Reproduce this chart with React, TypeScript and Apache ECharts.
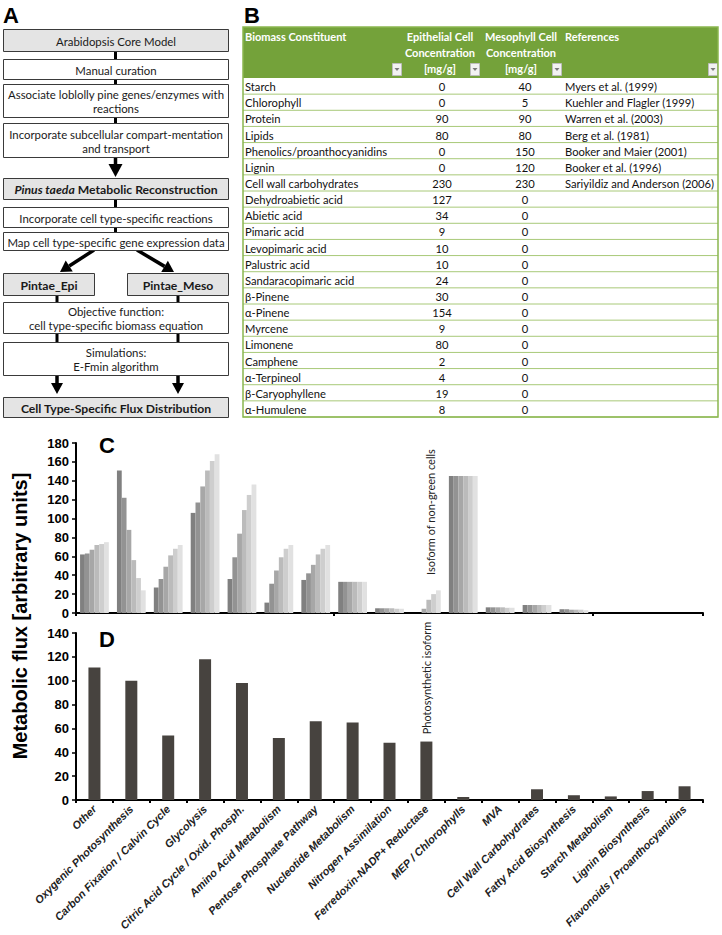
import React, { useEffect, useRef } from "react";
import * as echarts from "echarts";

// ---------- Panel C / D data ----------
const pathways = [
  "Other",
  "Oxygenic Photosynthesis",
  "Carbon Fixation / Calvin Cycle",
  "Glycolysis",
  "Citric Acid Cycle / Oxid. Phosph.",
  "Amino Acid Metabolism",
  "Pentose Phosphate Pathway",
  "Nucleotide Metabolism",
  "Nitrogen Assimilation",
  "Ferredoxin-NADP+ Reductase",
  "MEP / Chlorophylls",
  "MVA",
  "Cell Wall Carbohydrates",
  "Fatty Acid Biosynthesis",
  "Starch Metabolism",
  "Lignin Biosynthesis",
  "Flavonoids / Proanthocyanidins",
];
const fluxC1 = [62, 151, 27, 106, 36, 11, 35, 33, 5, 0, 145, 6, 8.5, 4, 0, 0, 0];
const fluxC2 = [63, 122, 36, 117, 59, 31, 42, 33, 5, 0, 145, 6, 8.5, 4, 0, 0, 0];
const fluxC3 = [67, 88, 49, 134, 84, 45, 51, 33, 5, 4.5, 145, 6, 8.5, 3.5, 0, 0, 0];
const fluxC4 = [72, 56, 61, 151, 109, 59, 62, 33, 5, 14, 145, 6, 8.5, 3.5, 0, 0, 0];
const fluxC5 = [73, 37, 68, 161, 125, 68, 68, 33, 4.5, 20, 145, 5.5, 8.5, 3.5, 0, 0, 0];
const fluxC6 = [75, 24, 72, 168, 136, 72, 72, 33, 4.5, 24, 145, 5.5, 8.5, 3, 0, 0, 0];
const fluxCSeries = [fluxC1, fluxC2, fluxC3, fluxC4, fluxC5, fluxC6];
const fluxD = [111, 100, 54, 118, 98, 52, 66, 65, 48, 49, 2.5, 0, 9, 4, 3, 7.5, 11.5];
const yTicksC = { min: 0, max: 180, interval: 20 };
const yTicksD = { min: 0, max: 140, interval: 20 };

// ---------- Panel B data ----------
const biomassNames = [
  "Starch", "Chlorophyll", "Protein", "Lipids", "Phenolics/proanthocyanidins", "Lignin",
  "Cell wall carbohydrates", "Dehydroabietic acid", "Abietic acid", "Pimaric acid",
  "Levopimaric acid", "Palustric acid", "Sandaracopimaric acid", "β-Pinene", "α-Pinene",
  "Myrcene", "Limonene", "Camphene", "α-Terpineol", "β-Caryophyllene", "α-Humulene",
];
const epiConc = [0, 0, 90, 80, 0, 0, 230, 127, 34, 9, 10, 10, 24, 30, 154, 9, 80, 2, 4, 19, 8];
const mesoConc = [40, 5, 90, 80, 150, 120, 230, 0, 0, 0, 0, 0, 0, 0, 0, 0, 0, 0, 0, 0, 0];
const references = [
  "Myers et al. (1999)", "Kuehler and Flagler (1999)", "Warren et al. (2003)", "Berg et al. (1981)",
  "Booker and Maier (2001)", "Booker et al. (1996)", "Sariyildiz and Anderson (2006)",
  "", "", "", "", "", "", "", "", "", "", "", "", "", "",
];

// ---------- Panel A texts ----------
const flowTexts = [
  "Arabidopsis Core Model",
  "Manual curation",
  "Associate loblolly pine genes/enzymes with\nreactions",
  "Incorporate subcellular compart-mentation\nand transport",
  "{i|Pinus taeda}{b| Metabolic Reconstruction}",
  "Incorporate cell type-specific reactions",
  "Map cell type-specific gene expression data",
  "Pintae_Epi",
  "Pintae_Meso",
  "Objective function:\ncell type-specific biomass equation",
  "Simulations:\nE-Fmin algorithm",
  "Cell Type-Specific Flux Distribution",
];

const greys = ["#808080", "#939393", "#a7a7a7", "#bbbbbb", "#cecece", "#e1e1e1"];
const SANS = "Lato";
const ARIAL = "Liberation Sans";

function txt(x: number, y: number, text: string, o: any = {}) {
  return {
    type: "text",
    x,
    y,
    rotation: o.rotation || 0,
    silent: true,
    style: {
      text,
      fill: o.fill || "#222",
      fontSize: o.fontSize || 11,
      fontWeight: o.fontWeight || "normal",
      fontStyle: o.fontStyle || "normal",
      fontFamily: o.fontFamily || SANS,
      align: o.align || "left",
      verticalAlign: o.verticalAlign || "middle",
      textAlign: o.align || "left",
      textVerticalAlign: o.verticalAlign || "middle",
      lineHeight: o.lineHeight || 14,
      rich: o.rich,
    },
  };
}

function arrowPoly(fx: number, fy: number, tx: number, ty: number, len: number, half: number) {
  const dx = tx - fx, dy = ty - fy;
  const L = Math.sqrt(dx * dx + dy * dy);
  const ux = dx / L, uy = dy / L;
  const bx = tx - ux * len, by = ty - uy * len;
  const px = -uy * half, py = ux * half;
  return [
    { type: "line", silent: true, shape: { x1: fx, y1: fy, x2: bx, y2: by }, style: { stroke: "#000", lineWidth: 3.5 } },
    { type: "polygon", silent: true, shape: { points: [[tx, ty], [bx + px, by + py], [bx - px, by - py]] }, style: { fill: "#000" } },
  ];
}

function buildGraphic() {
  const g: any[] = [];
  // Panel letters
  g.push(txt(3, 15, "A", { fontSize: 22, fontWeight: "bold", fontFamily: ARIAL, fill: "#000" }));
  g.push(txt(244, 15, "B", { fontSize: 22, fontWeight: "bold", fontFamily: ARIAL, fill: "#000" }));
  g.push(txt(99, 445, "C", { fontSize: 22, fontWeight: "bold", fontFamily: ARIAL, fill: "#000" }));
  g.push(txt(99, 639, "D", { fontSize: 22, fontWeight: "bold", fontFamily: ARIAL, fill: "#000" }));

  // ---- Panel A flowchart ----
  const L = 3, R = 228, CX = 115.5;
  const boxes = [
    { x: L, w: R - L, y: 29, h: 22, gray: true },
    { x: L, w: R - L, y: 59, h: 20 },
    { x: L, w: R - L, y: 84, h: 33 },
    { x: L, w: R - L, y: 123, h: 34 },
    { x: L, w: R - L, y: 178, h: 21, gray: true, bold: true },
    { x: L, w: R - L, y: 207, h: 20 },
    { x: L, w: R - L, y: 232, h: 18 },
    { x: L, w: 91, y: 273, h: 22, gray: true, bold: true },
    { x: 127, w: R - 127, y: 273, h: 22, gray: true, bold: true },
    { x: L, w: R - L, y: 302, h: 31 },
    { x: L, w: R - L, y: 342, h: 33 },
    { x: L, w: R - L, y: 397, h: 20, gray: true, bold: true },
  ];
  const conn = (x: number, y1: number, y2: number) =>
    g.push({ type: "line", silent: true, shape: { x1: x, y1, x2: x, y2 }, style: { stroke: "#000", lineWidth: 3 } });
  conn(CX, 51, 59);
  conn(CX, 79, 84);
  conn(CX, 117, 123);
  conn(CX, 199, 207);
  conn(CX, 227, 232);
  conn(57, 295, 302);
  conn(178, 295, 302);
  conn(57, 333, 342);
  conn(178, 333, 342);
  g.push(...arrowPoly(CX, 157, CX, 177, 13, 7));
  g.push(...arrowPoly(94, 250, 60, 272, 11, 6.5));
  g.push(...arrowPoly(137, 250, 174, 272, 11, 6.5));
  g.push(...arrowPoly(57, 375, 57, 394, 11, 6));
  g.push(...arrowPoly(178, 375, 178, 394, 11, 6));

  boxes.forEach((b, i) => {
    g.push({
      type: "rect",
      silent: true,
      shape: { x: b.x + 0.5, y: b.y + 0.5, width: b.w, height: b.h },
      style: { fill: b.gray ? "#e4e4e4" : "#ffffff", stroke: "#3a3a3a", lineWidth: 1 },
      z: 10,
    });
    const isRich = flowTexts[i].indexOf("{i|") === 0;
    g.push({
      ...txt(b.x + b.w / 2 + 0.5, b.y + b.h / 2 + 1, flowTexts[i], {
        align: "center",
        fontSize: b.bold ? 12.2 : 11.4,
        fontWeight: b.bold ? "bold" : "normal",
        fill: "#1a1a1a",
        lineHeight: 14,
        rich: isRich
          ? {
              i: { fontStyle: "italic", fontWeight: "bold", fontSize: 12.2, fontFamily: SANS, fill: "#1a1a1a" },
              b: { fontWeight: "bold", fontSize: 12.2, fontFamily: SANS, fill: "#1a1a1a" },
            }
          : undefined,
      }),
      z: 11,
    });
  });

  // ---- Panel B table ----
  const TL = 243, TR = 718, HT = 27, HB = 78;
  const rowH = (417 - HB) / biomassNames.length;
  g.push({ type: "rect", silent: true, shape: { x: TL, y: HT, width: TR - TL, height: HB - HT }, style: { fill: "#74a23a" } });
  const hOpt = { fill: "#ffffff", fontWeight: "bold", fontSize: 11 };
  g.push(txt(TL + 2, 36, "Biomass Constituent", hOpt));
  g.push(txt(TL + 322, 36, "References", hOpt));
  const hl = ["Epithelial Cell", "Concentration", "[mg/g]"];
  const ml = ["Mesophyll Cell", "Concentration", "[mg/g]"];
  hl.forEach((t, k) => g.push(txt(440, 36 + k * 16, t, { ...hOpt, align: "center" })));
  ml.forEach((t, k) => g.push(txt(521, 36 + k * 16, t, { ...hOpt, align: "center" })));
  [392, 470, 552, 708].forEach((x) => {
    g.push({ type: "rect", silent: true, shape: { x: x + 0.5, y: 63.5, width: 9, height: 12 }, style: { fill: "#f2f2f2", stroke: "#bdbdbd", lineWidth: 1 } });
    g.push({ type: "polygon", silent: true, shape: { points: [[x + 2.5, 68], [x + 7.5, 68], [x + 5, 71]] }, style: { fill: "#7a7a7a" } });
  });
  for (let r = 0; r < biomassNames.length; r++) {
    const yTop = HB + r * rowH;
    const yc = yTop + rowH / 2 + 0.5;
    g.push(txt(TL + 2, yc, biomassNames[r], { fontSize: 11.2, fill: "#111" }));
    g.push(txt(442, yc, String(epiConc[r]), { fontSize: 11.2, fill: "#111", align: "center" }));
    g.push(txt(525, yc, String(mesoConc[r]), { fontSize: 11.2, fill: "#111", align: "center" }));
    if (references[r]) g.push(txt(TL + 322, yc, references[r], { fontSize: 11.2, fill: "#111" }));
    g.push({
      type: "line",
      silent: true,
      shape: { x1: TL, y1: yTop + rowH, x2: TR, y2: yTop + rowH },
      style: { stroke: "#a8c978", lineWidth: 1 },
    });
  }
  g.push({ type: "rect", silent: true, shape: { x: TL, y: HT, width: TR - TL, height: 417 - HT }, style: { fill: "none", stroke: "#8ab64f", lineWidth: 1.5 } });

  // ---- Shared y-axis title and annotations ----
  g.push(txt(20, 616, "Metabolic flux [arbitrary units]", {
    rotation: Math.PI / 2, align: "center", fontSize: 20, fontWeight: "bold", fontFamily: ARIAL, fill: "#000",
  }));
  g.push(txt(430, 512, "Isoform of non-green cells", { rotation: Math.PI / 2, align: "center", fontSize: 11, fill: "#222" }));
  g.push(txt(426, 678, "Photosynthetic isoform", { rotation: Math.PI / 2, align: "center", fontSize: 11, fill: "#222" }));
  return g;
}

export default function App() {
  const ref = useRef<HTMLDivElement>(null);
  useEffect(() => {
    if (!ref.current) return;
    const chart = echarts.init(ref.current, undefined, { renderer: "svg" });
    const axisLine = { show: true, lineStyle: { color: "#000", width: 2 } };
    const yLabel = { fontWeight: "bold", fontSize: 13, color: "#000", fontFamily: ARIAL, margin: 7 };
    const option: any = {
      animation: false,
      backgroundColor: "#ffffff",
      grid: [
        { left: 76, top: 443, width: 627, height: 170 },
        { left: 76, top: 633, width: 627, height: 167 },
      ],
      xAxis: [
        {
          type: "category", gridIndex: 0, data: pathways,
          axisLine, axisTick: { show: true, length: 3, lineStyle: { color: "#000", width: 2 } },
          axisLabel: { show: false },
        },
        {
          type: "category", gridIndex: 1, data: pathways,
          axisLine, axisTick: { show: true, length: 3, lineStyle: { color: "#000", width: 2 } },
          axisLabel: {
            interval: 0, rotate: 45, fontSize: 11, fontWeight: "bold", fontStyle: "italic",
            fontFamily: ARIAL, color: "#222", margin: 7,
          },
        },
      ],
      yAxis: [
        {
          type: "value", gridIndex: 0, ...yTicksC,
          axisLine, splitLine: { show: false },
          axisTick: { show: true, length: 4, lineStyle: { color: "#000", width: 1.5 } },
          axisLabel: yLabel,
        },
        {
          type: "value", gridIndex: 1, ...yTicksD,
          axisLine, splitLine: { show: false },
          axisTick: { show: true, length: 4, lineStyle: { color: "#000", width: 1.5 } },
          axisLabel: yLabel,
        },
      ],
      series: [
        ...fluxCSeries.map((d, i) => ({
          type: "bar", xAxisIndex: 0, yAxisIndex: 0, data: d,
          barGap: "0%", barCategoryGap: "22%",
          itemStyle: { color: greys[i] },
          silent: true,
        })),
        {
          type: "bar", xAxisIndex: 1, yAxisIndex: 1, data: fluxD,
          barWidth: 12, itemStyle: { color: "#47433f" }, silent: true,
        },
      ],
      graphic: buildGraphic(),
    };
    chart.setOption(option);
    return () => chart.dispose();
  }, []);
  return (
    <div
      ref={ref}
      style={{ position: "absolute", left: 0, top: 0, width: 722, height: 935, background: "#fff" }}
    />
  );
}
